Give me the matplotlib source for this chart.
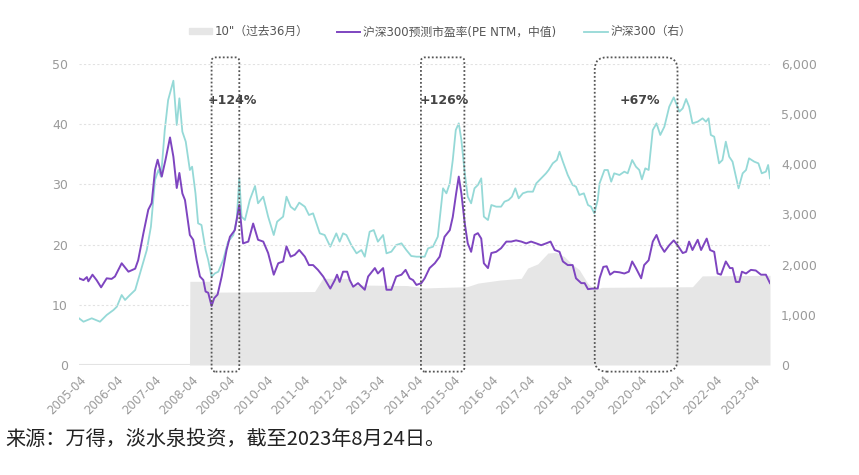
import matplotlib.pyplot as plt
from matplotlib.patches import FancyBboxPatch

plt.rcParams['font.family'] = ['DejaVu Sans', 'Noto Sans CJK SC']

# 沪深300预测市盈率 (PE NTM, median) - decimal year, value
pe_x = [2005.24, 2005.36, 2005.45, 2005.49, 2005.60, 2005.71, 2005.83, 2005.98, 2006.11, 2006.20,
        2006.38, 2006.56, 2006.74, 2006.82, 2006.96, 2007.09, 2007.18, 2007.27, 2007.34, 2007.45,
        2007.55, 2007.67, 2007.76, 2007.85, 2007.92, 2008.00, 2008.07, 2008.20, 2008.29, 2008.38,
        2008.47, 2008.56, 2008.62, 2008.69, 2008.78, 2008.85, 2008.94, 2009.05, 2009.18, 2009.27,
        2009.40, 2009.52, 2009.62, 2009.76, 2009.89, 2010.02, 2010.16, 2010.29, 2010.44, 2010.56,
        2010.69, 2010.78, 2010.89, 2011.00, 2011.12, 2011.27, 2011.38, 2011.49, 2011.62, 2011.76,
        2011.95, 2012.07, 2012.13, 2012.20, 2012.29, 2012.40, 2012.47, 2012.56, 2012.69, 2012.87,
        2012.96, 2013.14, 2013.22, 2013.36, 2013.45, 2013.58, 2013.71, 2013.85, 2013.96, 2014.07,
        2014.16, 2014.25, 2014.38, 2014.47, 2014.60, 2014.74, 2014.87, 2015.00, 2015.14, 2015.22,
        2015.31, 2015.38, 2015.45, 2015.54, 2015.62, 2015.71, 2015.80, 2015.89, 2015.98, 2016.05,
        2016.16, 2016.25, 2016.38, 2016.51, 2016.65, 2016.78, 2016.91, 2017.05, 2017.18, 2017.31,
        2017.45, 2017.58, 2017.71, 2017.83, 2017.94, 2018.07, 2018.16, 2018.29, 2018.42, 2018.51,
        2018.65, 2018.74, 2018.83, 2018.96, 2019.09, 2019.14, 2019.24, 2019.33, 2019.42, 2019.53,
        2019.67, 2019.80, 2019.92, 2020.01, 2020.11, 2020.25, 2020.33, 2020.45, 2020.56, 2020.66,
        2020.76, 2020.87, 2021.00, 2021.12, 2021.22, 2021.36, 2021.45, 2021.53, 2021.62, 2021.76,
        2021.85, 2022.00, 2022.09, 2022.20, 2022.29, 2022.38, 2022.51, 2022.62, 2022.69, 2022.78,
        2022.87, 2022.94, 2023.05, 2023.18, 2023.31, 2023.45, 2023.58, 2023.69]
pe_y = [14.4, 14.1, 14.6, 13.9, 15.0, 14.1, 12.9, 14.4, 14.3, 14.7,
        16.9, 15.5, 16.0, 17.4, 21.9, 25.8, 26.9, 32.4, 34.1, 31.3,
        34.1, 37.8, 34.6, 29.4, 31.9, 28.5, 27.4, 21.6, 20.8, 17.4,
        14.7, 14.1, 12.2, 12.0, 9.8, 11.1, 11.7, 14.7, 19.1, 21.3,
        22.4, 26.6, 20.2, 20.5, 23.5, 20.8, 20.5, 18.6, 15.0, 16.9,
        17.2, 19.7, 18.0, 18.3, 19.1, 18.0, 16.6, 16.6, 15.8, 14.7,
        12.7, 14.1, 15.0, 13.8, 15.5, 15.5, 14.1, 13.0, 13.6, 12.5,
        14.7, 16.1, 15.2, 16.1, 12.5, 12.5, 14.7, 15.0, 15.8, 14.4,
        14.1, 13.3, 13.6, 14.4, 16.1, 16.9, 18.0, 21.3, 22.4, 24.6,
        28.5, 31.3, 28.5, 23.5, 20.2, 18.8, 21.6, 21.9, 21.0, 16.9,
        16.1, 18.6, 18.8, 19.4, 20.5, 20.5, 20.7, 20.5, 20.2, 20.5,
        20.2, 19.9, 20.2, 20.5, 19.1, 18.8, 17.2, 16.6, 16.6, 14.4,
        13.6, 13.6, 12.6, 12.7, 12.7, 14.4, 16.3, 16.4, 15.0, 15.5,
        15.4, 15.2, 15.5, 17.2, 16.1, 14.4, 16.6, 17.4, 20.5, 21.6,
        19.9, 18.8, 19.9, 20.7, 19.9, 18.6, 18.8, 20.5, 19.1, 20.8,
        19.1, 21.0, 19.1, 18.8, 15.2, 15.0, 17.2, 16.1, 16.1, 13.8,
        13.8, 15.5, 15.2, 15.8, 15.7, 15.0, 15.0, 13.6]

# 沪深300 index level (right axis)
hs_x = [2005.24, 2005.36, 2005.58, 2005.80, 2005.98, 2006.16, 2006.25, 2006.38, 2006.47, 2006.60,
        2006.74, 2006.87, 2007.05, 2007.16, 2007.27, 2007.36, 2007.43, 2007.53, 2007.62, 2007.76,
        2007.85, 2007.92, 2008.00, 2008.09, 2008.20, 2008.26, 2008.35, 2008.42, 2008.51, 2008.62,
        2008.69, 2008.78, 2008.87, 2008.96, 2009.09, 2009.22, 2009.36, 2009.45, 2009.52, 2009.58,
        2009.67, 2009.80, 2009.94, 2010.02, 2010.16, 2010.29, 2010.44, 2010.53, 2010.69, 2010.78,
        2010.89, 2011.00, 2011.12, 2011.27, 2011.38, 2011.49, 2011.67, 2011.80, 2011.95, 2012.11,
        2012.20, 2012.29, 2012.38, 2012.51, 2012.65, 2012.78, 2012.87, 2013.00, 2013.11, 2013.22,
        2013.36, 2013.45, 2013.58, 2013.71, 2013.85, 2013.98, 2014.11, 2014.25, 2014.38, 2014.47,
        2014.56, 2014.69, 2014.82, 2014.96, 2015.05, 2015.14, 2015.22, 2015.30, 2015.38, 2015.45,
        2015.54, 2015.62, 2015.71, 2015.80, 2015.89, 2015.98, 2016.05, 2016.16, 2016.25, 2016.38,
        2016.51, 2016.60, 2016.71, 2016.80, 2016.89, 2016.98, 2017.09, 2017.22, 2017.36, 2017.45,
        2017.58, 2017.71, 2017.78, 2017.89, 2018.00, 2018.07, 2018.16, 2018.29, 2018.42, 2018.51,
        2018.60, 2018.72, 2018.83, 2018.91, 2019.00, 2019.09, 2019.14, 2019.27, 2019.36, 2019.45,
        2019.53, 2019.67, 2019.80, 2019.89, 2020.01, 2020.11, 2020.20, 2020.27, 2020.36, 2020.45,
        2020.56, 2020.66, 2020.76, 2020.87, 2021.00, 2021.12, 2021.27, 2021.36, 2021.45, 2021.53,
        2021.62, 2021.76, 2021.89, 2021.98, 2022.05, 2022.11, 2022.20, 2022.33, 2022.42, 2022.51,
        2022.60, 2022.69, 2022.85, 2022.96, 2023.05, 2023.13, 2023.27, 2023.38, 2023.47, 2023.58,
        2023.64, 2023.69]
hs_y = [931, 863, 931, 863, 997, 1096, 1162, 1395, 1296, 1395,
        1495, 1827, 2292, 2757, 3688, 3887, 3754, 4684, 5282, 5667,
        4784, 5316, 4651, 4452, 3887, 3953, 3422, 2824, 2791, 2292,
        2093, 1760, 1827, 1860, 2093, 2458, 2591, 2890, 3721, 2957,
        2890, 3289, 3568, 3223, 3355, 2957, 2591, 2857, 2957, 3355,
        3156, 3090, 3236, 3156, 2990, 3023, 2624, 2591, 2358, 2624,
        2458, 2624, 2591, 2392, 2226, 2292, 2159, 2657, 2690, 2458,
        2591, 2226, 2259, 2392, 2425, 2292, 2173, 2159, 2159, 2159,
        2325, 2358, 2558, 3522, 3422, 3621, 4086, 4684, 4817, 4485,
        3821, 3355, 3223, 3522, 3588, 3721, 2957, 2890, 3189, 3156,
        3156, 3256, 3289, 3355, 3522, 3322, 3422, 3455, 3455, 3621,
        3721, 3821, 3887, 4020, 4086, 4252, 4053, 3787, 3588, 3555,
        3389, 3422, 3189, 3156, 3023, 3289, 3621, 3887, 3887, 3654,
        3821, 3787, 3854, 3821, 4086, 3953, 3887, 3701, 3920, 3887,
        4684, 4817, 4585, 4751, 5149, 5335, 5050, 5116, 5302, 5149,
        4817, 4850, 4917, 4850, 4917, 4585, 4551, 4020, 4086, 4452,
        4153, 4053, 3522, 3821, 3887, 4120, 4053, 4020, 3821, 3854,
        3987, 3721]

# 10" 分位 (过去36月), shaded band
band_x = [2005.24, 2008.19, 2008.20, 2008.76, 2008.78, 2011.53, 2011.75, 2012.45, 2012.49, 2014.00,
          2014.47, 2015.00, 2015.60, 2015.89, 2016.47, 2017.05, 2017.22, 2017.49, 2017.76, 2017.98,
          2018.20, 2018.38, 2018.60, 2018.82, 2019.00, 2019.20, 2021.62, 2021.88, 2023.69]
band_y = [0, 0, 13.9, 13.9, 12.1, 12.2, 14.4, 14.4, 13.3, 13.2,
          12.8, 12.9, 13.0, 13.6, 14.1, 14.4, 16.1, 16.8, 18.6, 18.7,
          18.0, 16.9, 15.8, 13.6, 12.5, 12.9, 13.0, 14.8, 14.9]

years = list(range(2005, 2024))
tick_labels = ['%d-04' % y for y in years]

# highlighted rallies: x0, x1, label, label x, corner radius in px
boxes = [(2008.78, 2009.52, '+124%', 2008.68, 4),
         (2014.37, 2015.53, '+126%', 2014.33, 4),
         (2019.01, 2021.22, '+67%', 2019.67, 12)]

purple = '#7E45C0'
teal = '#95D9D7'

fig = plt.figure(figsize=(8.59, 4.75), dpi=100)
ax = fig.add_axes([79 / 859, 1 - 365 / 475, 691 / 859, 301 / 475])
ax2 = ax.twinx()

ax.fill_between(band_x, band_y, 0, color='#E6E6E6', lw=0, zorder=1)
ax.plot(pe_x, pe_y, color=purple, lw=1.4, zorder=4)
ax2.plot(hs_x, hs_y, color=teal, lw=1.3, zorder=2)

# keep purple line above the teal one
ax.set_zorder(2)
ax.patch.set_visible(False)
ax2.set_zorder(1)

ax.set_xlim(2005.24, 2023.69)
ax.set_ylim(0, 50)
ax2.set_ylim(0, 6000)
ax.set_yticks(range(0, 51, 10))
ax2.set_yticks(range(0, 6001, 1000))
ax2.set_yticklabels(['{:,}'.format(v) for v in range(0, 6001, 1000)])
ax.set_xticks([y + 0.25 for y in years])
ax.set_xticklabels(tick_labels, rotation=45, ha='right', rotation_mode='anchor')

for a in (ax, ax2):
    for s in a.spines.values():
        s.set_visible(False)
    a.tick_params(length=0, colors='#9A9A9A', labelsize=9)
ax.tick_params(axis='x', labelsize=8.5, pad=6)
ax.tick_params(axis='y', pad=8)
ax2.tick_params(axis='y', pad=8)
ax.axhline(0, color='#E3E3E3', lw=1.5, zorder=0)

for v in range(10, 51, 10):
    ax.axhline(v, color='#E2E2E2', lw=0.8, ls=(0, (2, 2)), zorder=0)

# pixel scale: 37.5 px per year, 6.02 px per PE unit
aspect = 37.5 / 6.02
for x0, x1, txt, tx, r in boxes:
    box = FancyBboxPatch((x0, -1.1), x1 - x0, 52.2,
                         boxstyle='round,pad=0,rounding_size=%f' % (r / 37.5),
                         mutation_aspect=aspect, fill=False, ec='#555555',
                         lw=1.3, ls=(0, (1, 1.2)), clip_on=False, zorder=6)
    ax.add_patch(box)
    ax.text(tx, 43.9, txt, fontsize=9, fontweight='bold', color='#444444',
            va='center', ha='left', zorder=7)

handles = [plt.Rectangle((0, 0), 1, 1, color='#E6E6E6'),
           plt.Line2D([], [], color=purple, lw=1.4),
           plt.Line2D([], [], color=teal, lw=1.3)]
labels = ['10"（过去36月）', '沪深300预测市盈率(PE NTM，中值)', '沪深300（右）']
fig.legend(handles, labels, loc='center', bbox_to_anchor=(0.512, 0.933), ncol=3,
           frameon=False, fontsize=8.5, labelcolor='#555555', handlelength=2.0,
           handleheight=0.45, columnspacing=2.4, handletextpad=0.2)

fig.text(0.006, 0.074, '来源：万得，淡水泉投资，截至2023年8月24日。', fontsize=14.5,
         color='#222222', va='center', ha='left', family=['Noto Sans CJK SC', 'DejaVu Sans'])

fig.savefig('out.png', dpi=100)
